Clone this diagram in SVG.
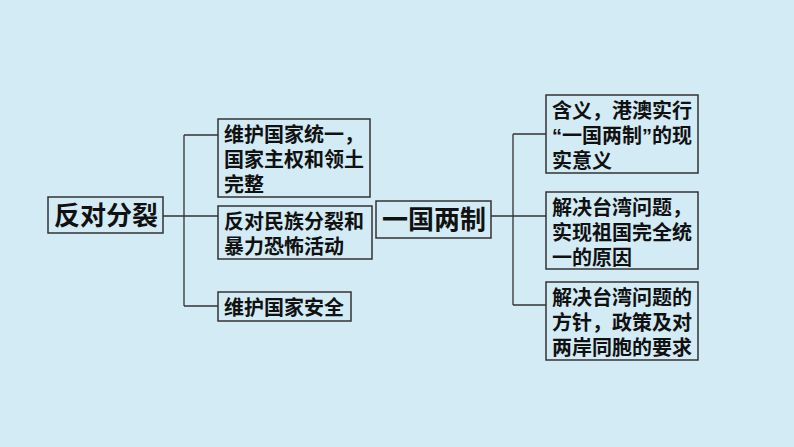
<svg xmlns="http://www.w3.org/2000/svg" width="794" height="447" viewBox="0 0 794 447">
<style>
.b{fill:none;stroke:#333;stroke-width:1.5}
.t{font-family:"Liberation Sans","Noto Sans CJK SC",sans-serif;font-size:20px;font-weight:bold;fill:#111}
.h{font-size:26px}
.c{fill:none;stroke:#333;stroke-width:1.3}
</style>
<rect width="794" height="447" fill="#d2ebf4"/>
<g id="connectors">
<path class="c" d="M163 216H184M184 135V306M184 135H218M184 216H218M184 306H218"/>
<path class="c" d="M491 216H513M513 134V305M513 134H546M513 216H546M513 305H546"/>
</g>
<g id="n1"><rect class="b" x="48" y="197" width="115" height="36"/><text class="t h" x="54" y="225">反对分裂</text></g>
<g id="n2"><rect class="b" x="218" y="119" width="152" height="78"/><text class="t" x="224" y="142">维护国家统一，</text><text class="t" x="224" y="167">国家主权和领土</text><text class="t" x="224" y="192">完整</text></g>
<g id="n3"><rect class="b" x="218" y="206" width="154" height="53"/><text class="t" x="224" y="229">反对民族分裂和</text><text class="t" x="224" y="254">暴力恐怖活动</text></g>
<g id="n4"><rect class="b" x="218" y="292" width="133" height="29"/><text class="t" x="224" y="315">维护国家安全</text></g>
<g id="n5"><rect class="b" x="376" y="201" width="115" height="37"/><text class="t h" x="382" y="229">一国两制</text></g>
<g id="n6"><rect class="b" x="546" y="95" width="152" height="78"/><text class="t" x="552" y="118">含义，港澳实行</text><text class="t" x="552" y="143">“一国两制”的现</text><text class="t" x="552" y="168">实意义</text></g>
<g id="n7"><rect class="b" x="546" y="192" width="152" height="77"/><text class="t" x="552" y="215">解决台湾问题，</text><text class="t" x="552" y="240">实现祖国完全统</text><text class="t" x="552" y="265">一的原因</text></g>
<g id="n8"><rect class="b" x="546" y="282" width="152" height="78"/><text class="t" x="552" y="305">解决台湾问题的</text><text class="t" x="552" y="330">方针，政策及对</text><text class="t" x="552" y="355">两岸同胞的要求</text></g>
</svg>
